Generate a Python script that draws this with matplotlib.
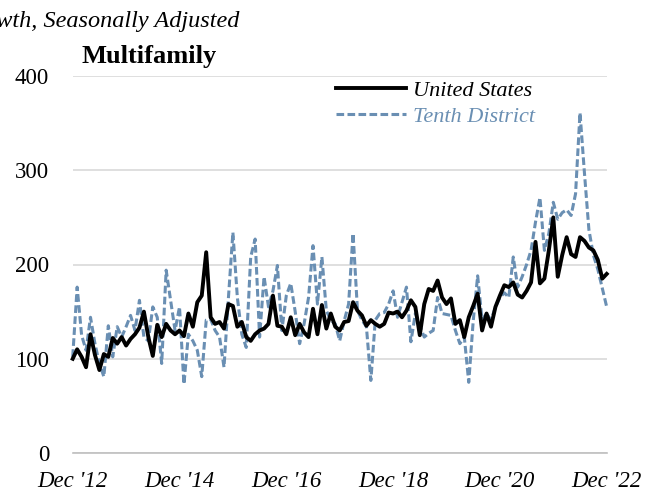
import numpy as np
import matplotlib
matplotlib.use('Agg')
import matplotlib.pyplot as plt

# monthly index, Dec 2012 - Dec 2022
us = [100, 110, 102, 91, 126, 104, 88, 105, 102, 122, 116, 123, 114, 121, 126, 133, 150, 123, 103, 136, 123, 137, 130, 126, 130,
      124, 148, 134, 160, 167, 213, 144, 137, 139, 132, 158, 156, 134, 139, 123, 119, 126, 130, 132, 137, 167, 135, 134, 126,
      144, 125, 137, 128, 123, 153, 126, 157, 132, 148, 134, 130, 139, 140, 160, 151, 146, 135, 141, 137, 134, 137, 149, 148,
      150, 144, 151, 162, 155, 125, 158, 174, 172, 183, 165, 158, 164, 137, 141, 123, 144, 156, 169, 130, 148, 134, 155,
      167, 178, 176, 181, 168, 165, 172, 181, 224, 180, 185, 215, 250, 187, 210, 229, 211, 208, 229, 225, 218, 215, 205, 185, 190]

tenth = [102, 176, 125, 109, 144, 116, 95, 81, 135, 102, 134, 123, 134, 146, 130, 162, 123, 119, 155, 144, 95, 194, 162, 130, 155,
         73, 126, 119, 109, 81, 141, 142, 130, 123, 91, 165, 234, 165, 126, 112, 208, 227, 123, 187, 155, 172, 199,
         130, 167, 180, 150, 116, 137, 165, 220, 158, 208, 151, 141, 137, 119, 140, 158, 233, 151, 141, 134, 77, 141, 148, 149, 158, 172,
         144, 160, 176, 118, 148, 135, 123, 127, 130, 165, 148, 147, 146, 130, 116, 123, 75, 140, 188, 141, 148, 141, 155,
         165, 170, 165, 208, 176, 187, 200, 215, 245, 271, 215, 233, 266, 248, 255, 258, 252, 275, 361, 297, 237, 210, 195, 175, 155]

x_ticks = [0, 24, 48, 72, 96, 120]
x_labels = ["Dec '12", "Dec '14", "Dec '16", "Dec '18", "Dec '20", "Dec '22"]
y_ticks = [0, 100, 200, 300, 400]

blue = '#6a8fb3'

plt.rcParams['font.family'] = ['Liberation Serif', 'DejaVu Serif']

W, H = 651, 495
fig = plt.figure(figsize=(W / 100, H / 100), dpi=100)
ax = fig.add_axes([72.7 / W, 1 - 453 / H, (606.7 - 72.7) / W, (453 - 76) / H])

x = np.arange(len(us))
ax.plot(x, us, color='black', lw=2.8, label='United States',
        solid_joinstyle='round', clip_on=False, zorder=3)
ax.plot(x, tenth, color=blue, lw=2.2, dashes=(2.5, 1.1), label='Tenth District',
        clip_on=False, zorder=2)

ax.set_xlim(0, 120)
ax.set_ylim(0, 400)
ax.set_yticks(y_ticks)
ax.set_xticks(x_ticks)
ax.set_xticklabels(x_labels, style='italic')

for s in ['top', 'right', 'left']:
    ax.spines[s].set_visible(False)
ax.spines['bottom'].set_color('#bfbfbf')
ax.spines['bottom'].set_linewidth(1.2)
ax.grid(axis='y', color='#d9d9d9', lw=1.2)
ax.set_axisbelow(True)
ax.tick_params(length=0, labelsize=16.5)
ax.tick_params(axis='y', pad=17)
ax.tick_params(axis='x', pad=13)

leg = ax.legend(loc='upper left', bbox_to_anchor=(336 / W, 1 - 80 / H),
                bbox_transform=fig.transFigure, frameon=False,
                prop={'style': 'italic', 'size': 16},
                handlelength=3.15, handletextpad=0.3, labelspacing=0.25,
                borderpad=0, borderaxespad=0, labelcolor='linecolor')

fig.text(82 / W, 1 - 57 / H, 'Multifamily', fontsize=19, fontweight='bold', va='center')
# subtitle runs off the left edge, as in the source
fig.text(239 / W, 1 - 21 / H, 'Growth, Seasonally Adjusted', ha='right', va='center',
         style='italic', fontsize=17.5)

fig.savefig('out.png', dpi=100)
